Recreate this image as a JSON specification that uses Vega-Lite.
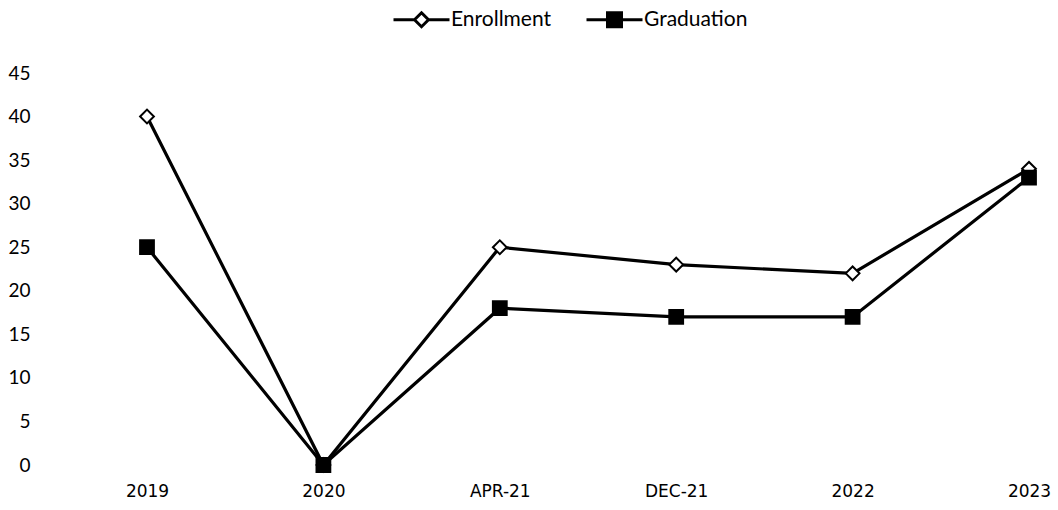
{
  "$schema": "https://vega.github.io/schema/vega-lite/v6.json",
  "width": 1018,
  "height": 392,
  "autosize": {"type": "none"},
  "padding": {"left": 40, "top": 73, "right": 0, "bottom": 45},
  "background": "white",
  "config": {"view": {"stroke": null}},
  "data": {
    "values": [
      {"period": "2019", "series": "Enrollment", "value": 40},
      {"period": "2020", "series": "Enrollment", "value": 0},
      {"period": "APR-21", "series": "Enrollment", "value": 25},
      {"period": "DEC-21", "series": "Enrollment", "value": 23},
      {"period": "2022", "series": "Enrollment", "value": 22},
      {"period": "2023", "series": "Enrollment", "value": 34},
      {"period": "2019", "series": "Graduation", "value": 25},
      {"period": "2020", "series": "Graduation", "value": 0},
      {"period": "APR-21", "series": "Graduation", "value": 18},
      {"period": "DEC-21", "series": "Graduation", "value": 17},
      {"period": "2022", "series": "Graduation", "value": 17},
      {"period": "2023", "series": "Graduation", "value": 33}
    ]
  },
  "encoding": {
    "x": {
      "field": "period", "type": "ordinal", "sort": null,
      "scale": {"type": "point", "range": [107, 989], "padding": 0},
      "axis": {"title": null, "domain": false, "ticks": false, "labelAngle": 0,
               "labelFont": "DejaVu Sans", "labelFontSize": 17, "labelColor": "black",
               "labelPadding": 18}
    },
    "y": {
      "field": "value", "type": "quantitative",
      "scale": {"domain": [0, 45], "nice": false},
      "axis": {"title": null, "domain": false, "ticks": false, "grid": false,
               "values": [0, 5, 10, 15, 20, 25, 30, 35, 40, 45],
               "labelFont": "Lato", "labelFontSize": 19, "labelColor": "black",
               "labelPadding": 10}
    }
  },
  "layer": [
    {
      "mark": {"type": "line", "color": "black", "strokeWidth": 3.2},
      "encoding": {"detail": {"field": "series"}}
    },
    {
      "mark": {"type": "point", "stroke": "black", "strokeWidth": 2, "size": 190, "opacity": 1, "filled": false},
      "encoding": {
        "shape": {
          "field": "series", "type": "nominal",
          "scale": {"domain": ["Enrollment", "Graduation"], "range": ["diamond", "square"]},
          "legend": null
        },
        "fill": {
          "field": "series", "type": "nominal",
          "scale": {"domain": ["Enrollment", "Graduation"], "range": ["white", "black"]},
          "legend": null
        }
      }
    },
    {
      "mark": {"type": "point", "stroke": "black", "strokeWidth": 3, "opacity": 0, "filled": false},
      "encoding": {
        "shape": {
          "field": "series", "type": "nominal",
          "scale": {"domain": ["Enrollment", "Graduation"], "range": [
            "M-1,0L-0.25,0M0.25,0L1,0M0,-0.25L0.25,0L0,0.25L-0.25,0Z",
            "M-1,0L-0.25,0M0.25,0L1,0M-0.25,-0.25L0.25,-0.25L0.25,0.25L-0.25,0.25Z"
          ]},
          "legend": {
            "title": null, "orient": "none", "direction": "horizontal",
            "legendX": 352, "legendY": -83,
            "symbolSize": 3136, "symbolStrokeWidth": 3, "symbolStrokeColor": "black",
            "symbolOpacity": 1,
            "labelFont": "Lato", "labelFontSize": 21, "labelColor": "black",
            "labelOffset": 0, "columnPadding": 28,
            "encode": {"symbols": {"update": {"stroke": {"value": "black"}, "strokeWidth": {"value": 3}, "strokeOpacity": {"value": 1}, "opacity": {"value": 1}}}}
          }
        },
        "fill": {
          "field": "series", "type": "nominal",
          "scale": {"domain": ["Enrollment", "Graduation"], "range": ["white", "black"]},
          "legend": {
            "title": null, "orient": "none", "direction": "horizontal",
            "legendX": 352, "legendY": -83,
            "symbolSize": 3136, "symbolStrokeWidth": 3, "symbolStrokeColor": "black",
            "symbolOpacity": 1,
            "labelFont": "Lato", "labelFontSize": 21, "labelColor": "black",
            "labelOffset": 0, "columnPadding": 28,
            "encode": {"symbols": {"update": {"stroke": {"value": "black"}, "strokeWidth": {"value": 3}, "strokeOpacity": {"value": 1}, "opacity": {"value": 1}}}}
          }
        }
      }
    }
  ],
  "resolve": {"scale": {"shape": "independent", "fill": "independent"}}
}
